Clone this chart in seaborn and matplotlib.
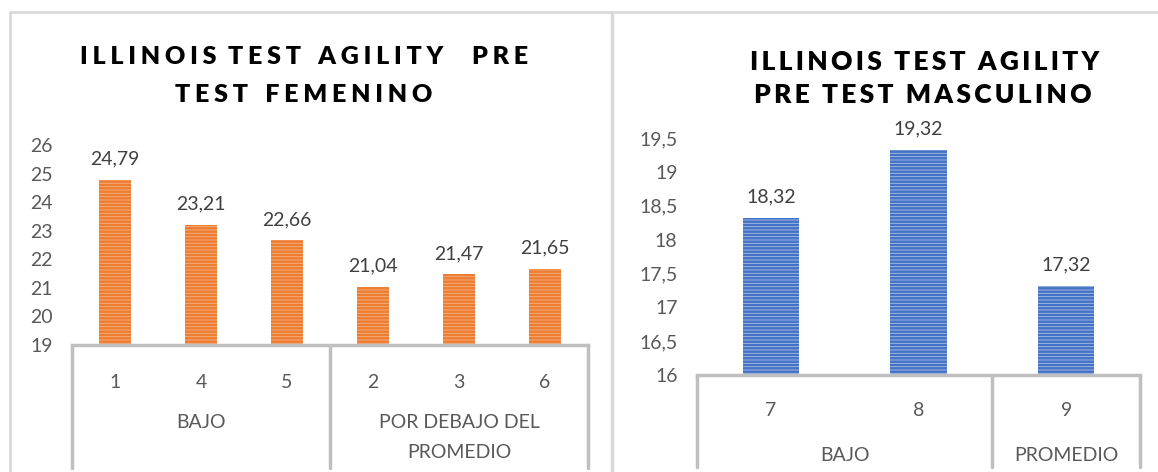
import matplotlib
matplotlib.use('Agg')
import matplotlib.pyplot as plt
from matplotlib.lines import Line2D
import seaborn as sns

# data
fem_ids = ['1', '4', '5', '2', '3', '6']
fem_groups = ['BAJO', 'BAJO', 'BAJO',
              'POR DEBAJO DEL\nPROMEDIO', 'POR DEBAJO DEL\nPROMEDIO', 'POR DEBAJO DEL\nPROMEDIO']
fem_times = [24.79, 23.21, 22.66, 21.04, 21.47, 21.65]
fem_ticks = [19, 20, 21, 22, 23, 24, 25, 26]

masc_ids = ['7', '8', '9']
masc_groups = ['BAJO', 'BAJO', 'PROMEDIO']
masc_times = [18.32, 19.32, 17.32]
masc_ticks = [16, 16.5, 17, 17.5, 18, 18.5, 19, 19.5]

sns.set_style('white')
plt.rcParams['font.family'] = ['Lato', 'DejaVu Sans']
plt.rcParams['hatch.linewidth'] = 1.8

TXT = '#595959'
AXC = '#BFBFBF'
FRAME = '#D9D9D9'
FS = 14


def comma(v):
    return f'{v:g}'.replace('.', ',')


def spaced(s, gap='\u2009'):
    return gap.join(s)


def draw_panel(ax, ids, groups, vals, ticks, face, hatchc, y_num, y_grp, y_line, line_gap):
    sns.barplot(x=ids, y=vals, ax=ax, color=face, width=0.38, saturation=1, order=ids)
    for p in ax.patches:
        p.set_hatch('-----')
        p.set_edgecolor(hatchc)
        p.set_linewidth(0)
    ax.set_ylim(ticks[0], ticks[-1])
    ax.set_xlim(-0.5, len(ids) - 0.5)
    ax.set_yticks(ticks)
    ax.set_yticklabels([comma(t) for t in ticks], fontsize=FS, color=TXT)
    ax.set_xticks([])
    ax.tick_params(axis='y', length=0, pad=14)
    for s in ['left', 'right', 'top']:
        ax.spines[s].set_visible(False)
    ax.spines['bottom'].set_color(AXC)
    ax.spines['bottom'].set_linewidth(2.5)
    ax.bar_label(ax.containers[0], labels=[comma(v) for v in vals],
                 padding=9, fontsize=FS, color='#404040')

    tr = ax.get_xaxis_transform()
    for i, lab in enumerate(ids):
        ax.text(i, y_num, lab, transform=tr, ha='center', va='center', fontsize=FS, color=TXT)

    # group spans
    spans = []
    start = 0
    for i in range(1, len(groups) + 1):
        if i == len(groups) or groups[i] != groups[start]:
            spans.append((start, i - 1, groups[start]))
            start = i
    for a, b, g in spans:
        for k, line in enumerate(g.split('\n')):
            ax.text((a + b) / 2, y_grp - k * line_gap, line, transform=tr,
                    ha='center', va='center', fontsize=FS, color=TXT)
    edges = [-0.5] + [b + 0.5 for a, b, g in spans]
    for e in edges:
        ax.plot([e, e], [0, y_line], transform=tr, color=AXC, lw=2.5, clip_on=False)


fig = plt.figure(figsize=(11.58, 4.72), dpi=100)
W, H = 1158, 472

ax1 = fig.add_axes([72 / W, 1 - 345 / H, 516 / W, 200 / H])
draw_panel(ax1, fem_ids, fem_groups, fem_times, fem_ticks,
           '#F4B183', '#ED7D31', -0.19, -0.39, -0.615, 0.15)

ax2 = fig.add_axes([697 / W, 1 - 375 / H, 443 / W, 237 / H])
draw_panel(ax2, masc_ids, masc_groups, masc_times, masc_ticks,
           '#A9C0E8', '#4472C4', -0.148, -0.338, -0.39, 0.12)

# titles
tkw = dict(ha='center', va='center', fontweight='heavy', color='black')
wide = '\u2009\u200a'
fig.text(304 / W, 1 - 57 / H, spaced('ILLINOIS', wide) + '  ' + spaced('TEST', wide) + '   '
         + spaced('AGILITY', wide) + '     ' + spaced('PRE', wide), fontsize=18, **tkw)
fig.text(304 / W, 1 - 95 / H, spaced('TEST', wide) + '   ' + spaced('FEMENINO', wide), fontsize=18, **tkw)
fig.text(925 / W, 1 - 62 / H, spaced('ILLINOIS') + '  ' + spaced('TEST') + '  ' + spaced('AGILITY'), fontsize=19, **tkw)
fig.text(923 / W, 1 - 95 / H, spaced('PRE') + '  ' + spaced('TEST') + '  ' + spaced('MASCULINO'), fontsize=19, **tkw)

# panel frames
fig.add_artist(Line2D([10 / W, 1], [1 - 12 / H] * 2, color=FRAME, lw=2))
fig.add_artist(Line2D([10 / W] * 2, [0, 1 - 12 / H], color=FRAME, lw=2))
fig.add_artist(Line2D([612 / W] * 2, [0, 1 - 12 / H], color=FRAME, lw=2.5))

fig.savefig('out.png', dpi=100)
